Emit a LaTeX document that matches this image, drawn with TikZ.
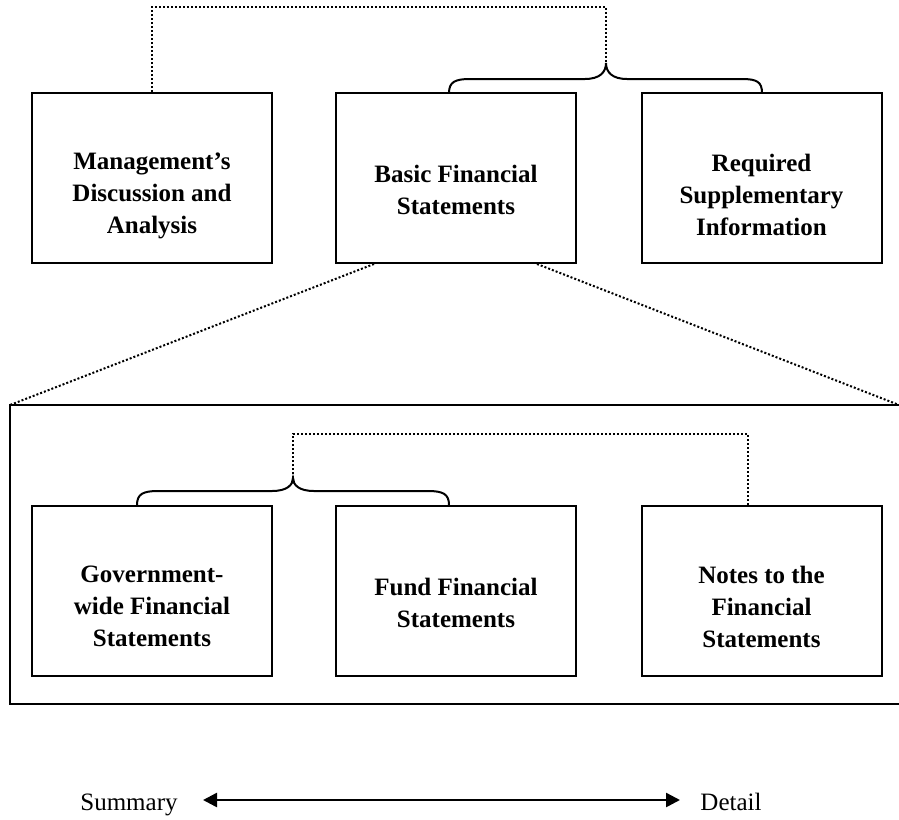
\documentclass[tikz,border=0pt]{standalone}
\usepackage{fontspec}
\setmainfont{Liberation Serif}
\usetikzlibrary{arrows.meta}
\begin{document}
\begin{tikzpicture}[x=1pt,y=-1pt,
  box/.style={draw,line width=2pt,minimum width=240pt,minimum height=170pt,inner sep=0pt},
  txt/.style={align=center,font=\fontsize{25pt}{32pt}\selectfont\bfseries,inner sep=0pt},
  lbl/.style={font=\fontsize{25pt}{32pt}\selectfont,inner sep=0pt,anchor=base},
  dot/.style={line width=2pt,dash pattern=on 2pt off 2pt},
  brace/.style={line width=2pt},
  frame/.style={line width=2pt}]
\useasboundingbox (0,0) rectangle (899,819);
% top row
\node[box] (L) at (152,178) {};
\node[box] (M) at (456,178) {};
\node[box] (R) at (761.5,178) {};
\node[txt] (Lt) at ([yshift=-18pt]L.center) {Management’s\\Discussion and\\Analysis};
\node[txt] (Mt) at ([yshift=-12pt]M.center) {Basic Financial\\Statements};
\node[txt] (Rt) at ([yshift=-17pt]R.center) {Required\\Supplementary\\Information};
% bottom row
\node[box] (G) at (152,590.5) {};
\node[box] (F) at (456,590.5) {};
\node[box] (N) at (761.5,590.5) {};
\node[txt] (Gt) at ([yshift=-16pt]G.center) {Government-\\wide Financial\\Statements};
\node[txt] (Ft) at ([yshift=-12pt]F.center) {Fund Financial\\Statements};
\node[txt] (Nt) at ([yshift=-16pt]N.center) {Notes to the\\Financial\\Statements};
% top brace
\coordinate (tb) at (606,63);
\draw[brace] (449,93) .. controls (449,82) and (455,79) .. (470,79) -- (585,79)
  .. controls (600,79) and (606,72) .. (tb)
  .. controls (606,72) and (612,79) .. (627,79) -- (742,79)
  .. controls (757,79) and (762,82) .. (762,93);
\draw[dot] (L.north) |- (606,7) -- (tb);
% bottom brace
\coordinate (bb) at (293,478);
\draw[brace] (137,505) .. controls (137,494) and (143,491) .. (158,491) -- (272,491)
  .. controls (287,491) and (293,485) .. (bb)
  .. controls (293,485) and (299,491) .. (314,491) -- (428,491)
  .. controls (443,491) and (449,494) .. (449,505);
\coordinate (nt) at (748,505);
\draw[dot] (bb) -- (293,434) -| (nt);
% container
\coordinate (cTL) at (10,405);
\coordinate (cTR) at (899,405);
\draw[frame] (cTR) -- (cTL) -- (10,704) -- (899,704);
% expansion lines
\draw[dot] ([xshift=39pt]M.south west) -- (cTL);
\draw[dot] ([xshift=-40pt]M.south east) -- (cTR);
% summary/detail axis
\node[lbl] (sum) at (129,810) {Summary};
\node[lbl] (det) at (731,810) {Detail};
\coordinate (aL) at (203,800);
\coordinate (aR) at (680,800);
\draw[line width=2.5pt,{Triangle[length=14pt,width=14pt]}-{Triangle[length=14pt,width=14pt]}]
  (aL) -- (aR);
\end{tikzpicture}
\end{document}
